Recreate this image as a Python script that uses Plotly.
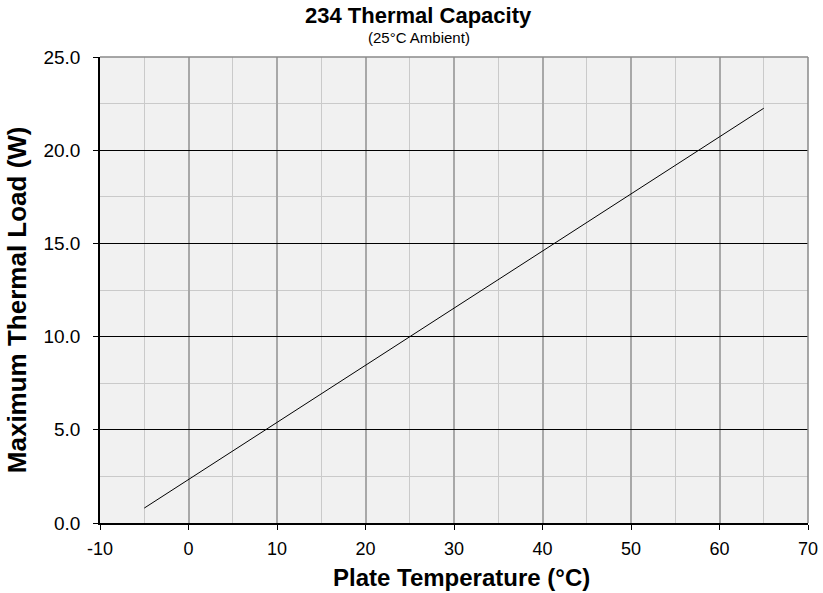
import plotly.graph_objects as go

# Data
plate_temp_c = [-5, 0, 5, 10, 15, 20, 25, 30, 35, 40, 45, 50, 55, 60, 65]
max_load_w = [0.80, 2.33, 3.87, 5.40, 6.93, 8.46, 10.00, 11.53, 13.06, 14.59, 16.13, 17.66, 19.19, 20.72, 22.25]

x_tick_vals = [-10, 0, 10, 20, 30, 40, 50, 60, 70]
y_tick_vals = [0, 5, 10, 15, 20, 25]

title_text = "234 Thermal Capacity"
subtitle_text = "(25°C Ambient)"
x_title = "Plate Temperature (°C)"
y_title = "Maximum Thermal Load (W)"

FONT = "Arial, Liberation Sans, sans-serif"

fig = go.Figure()
fig.add_trace(go.Scatter(
    x=plate_temp_c, y=max_load_w, mode="lines",
    line=dict(color="black", width=1), showlegend=False, hoverinfo="x+y"))

fig.update_layout(
    width=823, height=593,
    margin=dict(l=100, r=15, t=57, b=70, autoexpand=False),
    paper_bgcolor="white",
    plot_bgcolor="#f1f1f1",
    font=dict(family=FONT, color="black", size=18),
    xaxis=dict(
        range=[-10, 70], tickvals=x_tick_vals, ticktext=[str(v) for v in x_tick_vals],
        showgrid=True, gridcolor="#a8a8a8", gridwidth=1.5,
        minor=dict(dtick=5, tick0=0, showgrid=True, gridcolor="#cacaca", gridwidth=1, ticks=""),
        showline=True, linecolor="black", linewidth=1.5,
        ticks="outside", ticklen=5, tickcolor="black", tickwidth=1,
        tickfont=dict(size=18), ticklabelstandoff=4, zeroline=False, fixedrange=True,
        automargin=False,
    ),
    yaxis=dict(
        range=[0, 25], tickvals=y_tick_vals, ticktext=[f"{v:.1f}" for v in y_tick_vals],
        showgrid=True, gridcolor="black", gridwidth=1,
        minor=dict(dtick=2.5, tick0=0, showgrid=True, gridcolor="#cacaca", gridwidth=1, ticks=""),
        showline=True, linecolor="black", linewidth=1.5,
        ticks="outside", ticklen=5, tickcolor="black", tickwidth=1,
        tickfont=dict(size=19), ticklabelstandoff=9, zeroline=False, fixedrange=True,
        automargin=False,
    ),
    shapes=[
        dict(type="line", xref="paper", yref="paper", x0=0, x1=1, y0=1, y1=1,
             line=dict(color="#8a8a8a", width=1.5), layer="above"),
        dict(type="line", xref="paper", yref="paper", x0=1, x1=1, y0=0, y1=1,
             line=dict(color="#8a8a8a", width=1.5), layer="above"),
    ],
    annotations=[
        dict(text=f"<b>{title_text}</b>", xref="paper", yref="paper", x=0.45, y=1.090,
             xanchor="center", yanchor="middle", showarrow=False, font=dict(size=22)),
        dict(text=subtitle_text, xref="paper", yref="paper", x=0.45, y=1.041,
             xanchor="center", yanchor="middle", showarrow=False, font=dict(size=15)),
        dict(text=f"<b>{x_title}</b>", xref="paper", yref="paper", x=0.51, y=-0.118,
             xanchor="center", yanchor="middle", showarrow=False, font=dict(size=24)),
        dict(text=f"<b>{y_title}</b>", xref="paper", yref="paper", x=-0.117, y=0.4785,
             xanchor="center", yanchor="middle", showarrow=False, textangle=-90,
             font=dict(size=26)),
    ],
)

fig.write_html("out.html", config={"displayModeBar": False},
               post_script="document.body.style.margin='0';document.body.style.overflow='hidden';")
